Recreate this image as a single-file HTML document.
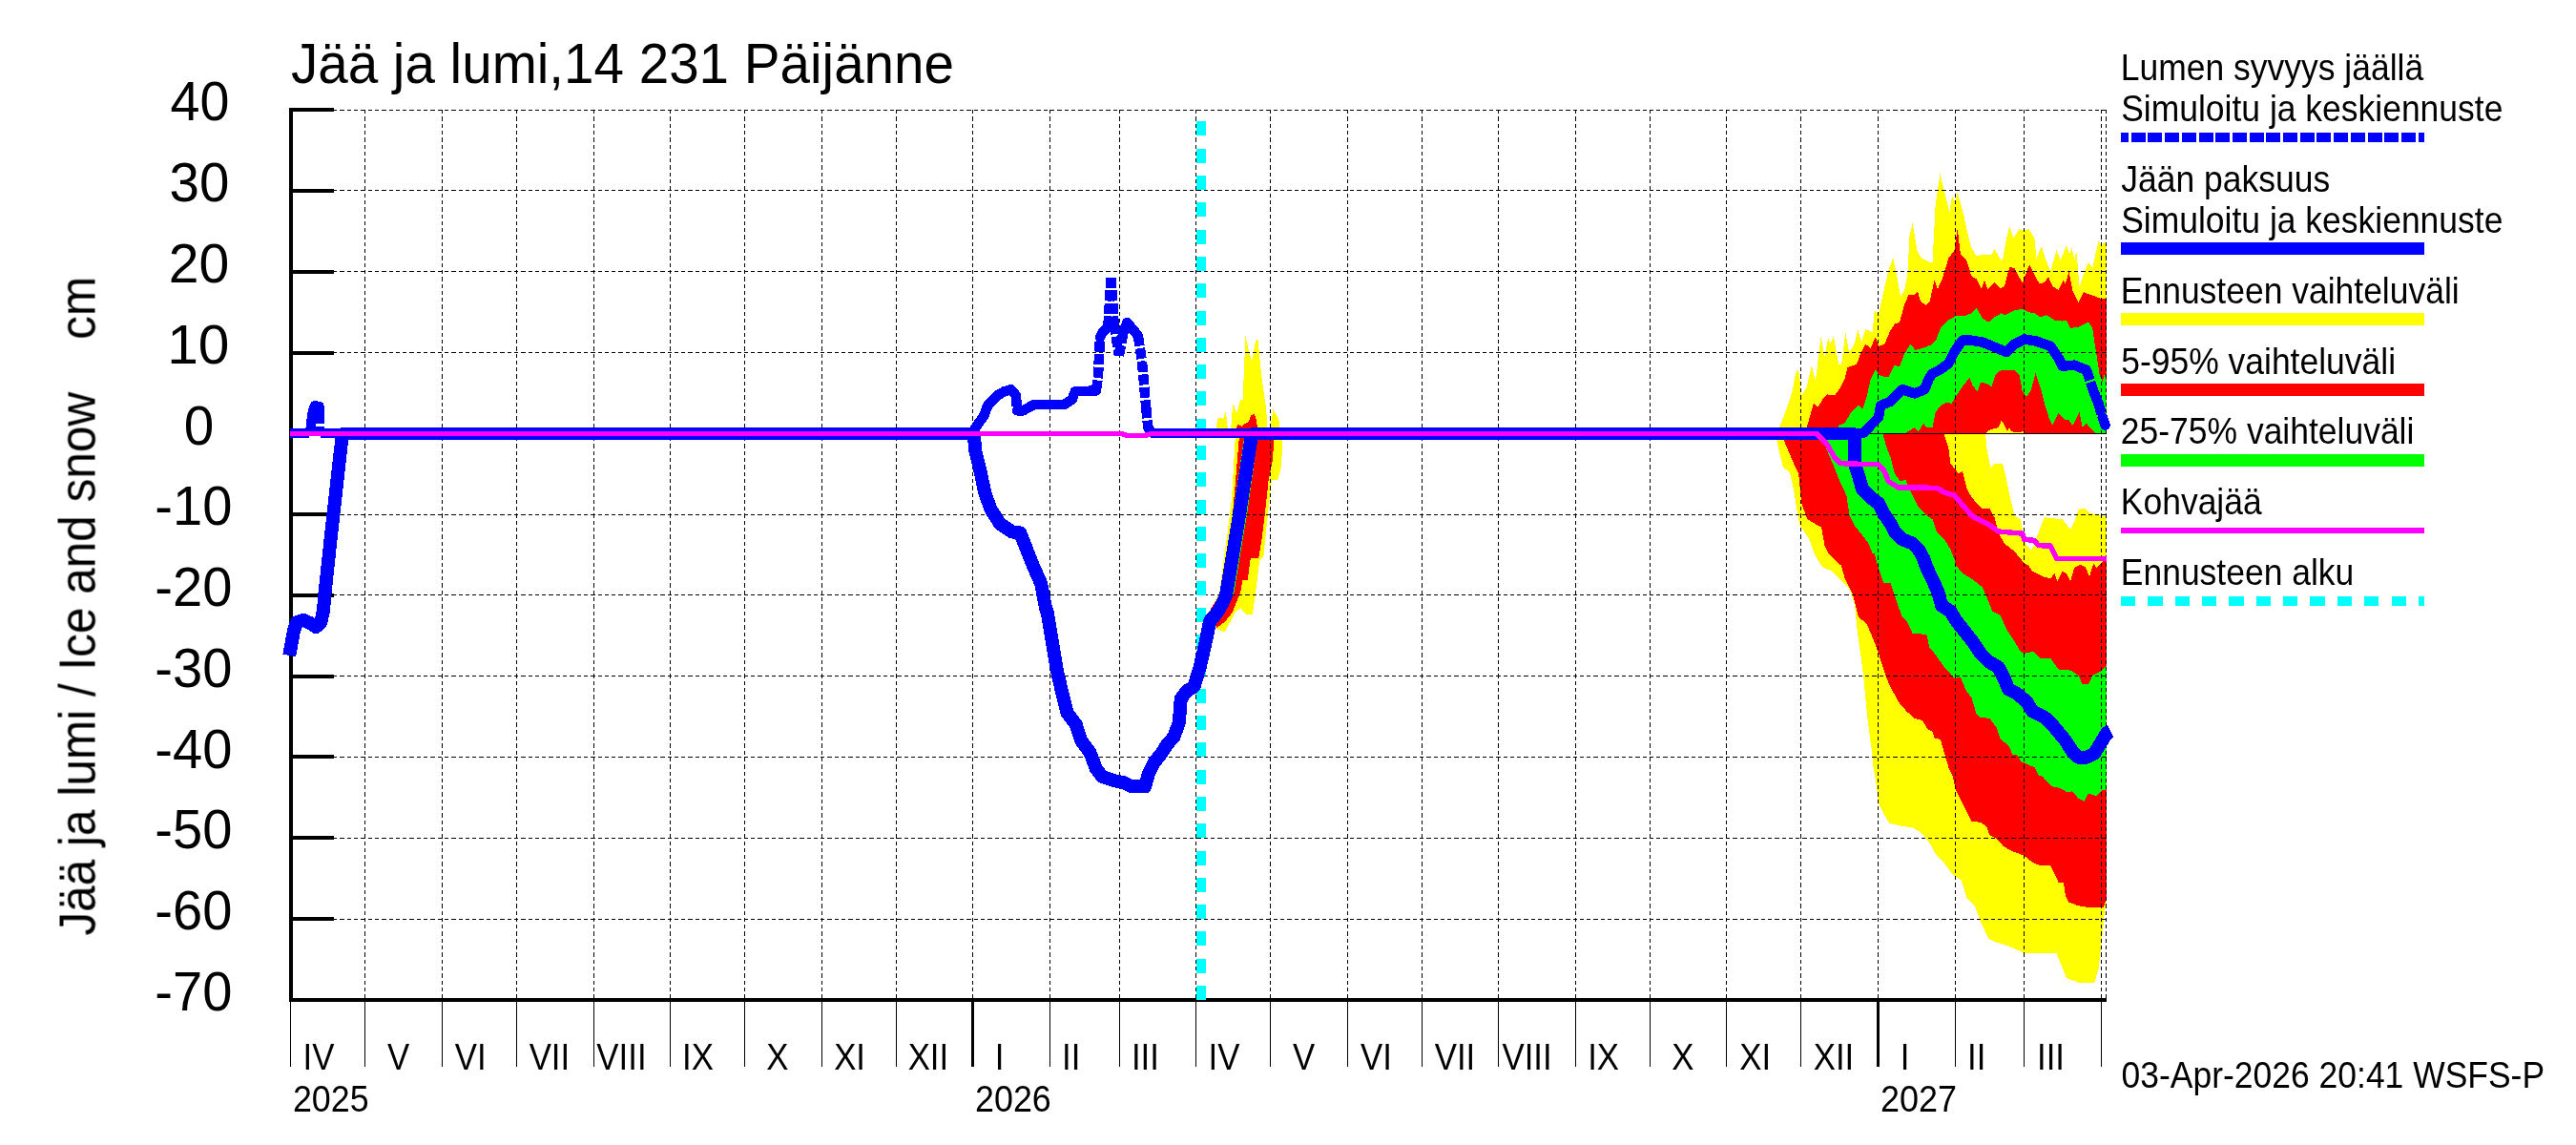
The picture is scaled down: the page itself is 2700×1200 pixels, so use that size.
<!DOCTYPE html>
<html><head><meta charset="utf-8"><title>Jää ja lumi</title>
<style>
html,body{margin:0;padding:0;background:#fff;}
body{width:2700px;height:1200px;overflow:hidden;}
svg{display:block;}
text{font-family:"Liberation Sans",sans-serif;fill:#000;}
</style></head><body>
<svg width="2700" height="1200" viewBox="0 0 2700 1200">
<rect x="0" y="0" width="2700" height="1200" fill="#fff"/>

<g shape-rendering="crispEdges">
<polygon fill="#ffff00" points="1274.4,450.1 1276.7,438.3 1279.9,437.5 1282.2,439.1 1284.9,431.2 1287.0,450.1 1290.1,450.1 1292.2,423.4 1296.4,432.8 1300.3,418.6 1302.7,418.6 1305.4,351.8 1309.0,368.3 1312.1,378.5 1316.1,357.3 1318.4,355.7 1322.3,395.0 1327.1,428.1 1328.6,450.1 1331.0,450.1 1334.6,428.9 1340.4,439.9 1341.2,450.1"/>
<polygon fill="#ff0000" points="1295.9,450.1 1297.2,444.6 1301.9,447.0 1304.3,443.8 1308.2,443.0 1311.3,435.2 1314.2,433.9 1316.1,436.7 1318.4,450.1"/>
<polygon fill="#ffff00" points="1295.1,452.6 1290.9,523.9 1286.7,557.5 1282.5,586.8 1278.3,620.4 1269.9,637.2 1266.8,641.4 1275.2,659.2 1283.6,662.4 1295.1,641.4 1300.3,637.2 1306.6,644.5 1312.9,643.5 1316.1,620.4 1320.3,586.8 1324.5,582.6 1328.7,540.7 1332.9,502.9 1339.2,502.9 1342.3,492.4 1344.4,467.3 1344.4,452.6"/>
<polygon fill="#ff0000" points="1299.3,452.6 1295.1,502.9 1292.0,538.6 1285.7,586.8 1279.4,622.5 1268.9,638.2 1275.2,658.2 1283.6,651.9 1292.0,641.4 1295.1,633.0 1300.3,620.4 1302.4,607.8 1307.7,607.8 1310.8,584.7 1319.2,584.7 1322.4,565.9 1325.5,540.7 1329.7,502.9 1333.9,482.0 1336.0,452.6"/>
<polygon fill="#00ff00" points="1305.0,452.6 1292.0,538.6 1278.3,623.6 1293.0,623.6 1307.1,538.6 1319.2,452.6"/>
<polygon fill="#ffff00" points="1862.1,454.3 1868.4,439.6 1874.7,422.9 1878.9,408.2 1882.0,391.4 1885.1,387.2 1888.3,414.5 1893.5,406.1 1898.8,383.1 1903.0,399.8 1906.1,372.6 1908.6,353.4 1912.4,373.3 1916.2,354.4 1918.7,360.7 1921.8,352.3 1927.1,381.7 1930.2,381.7 1934.4,348.1 1938.0,369.1 1942.8,362.8 1947.4,346.0 1951.2,358.6 1955.3,345.0 1962.7,348.1 1964.8,325.1 1969.0,329.3 1974.2,306.2 1979.4,283.2 1984.3,270.2 1987.8,287.4 1992.0,310.4 1996.2,304.1 1999.4,287.4 2001.5,247.5 2004.6,233.9 2009.8,264.3 2014.0,270.6 2022.4,274.8 2025.5,274.8 2028.7,214.0 2033.5,182.2 2038.1,201.4 2043.4,222.4 2046.1,205.6 2049.6,211.9 2051.7,201.4 2057.0,220.3 2061.2,239.2 2066.4,260.1 2071.7,268.5 2077.9,266.8 2087.4,267.4 2090.5,261.2 2094.7,268.5 2098.9,273.7 2103.1,249.6 2106.2,237.1 2110.4,249.6 2116.7,240.2 2121.9,241.2 2126.6,240.2 2132.4,249.6 2134.5,270.6 2139.8,258.0 2142.9,268.5 2149.2,284.2 2155.5,262.2 2159.7,272.7 2166.0,257.0 2169.1,266.4 2171.6,260.1 2174.3,272.7 2176.4,263.3 2179.6,301.0 2183.8,287.4 2189.0,274.8 2193.2,281.1 2199.5,252.8 2202.6,258.0 2205.8,253.8 2207.9,258.0 2207.9,454.5 1862.1,454.5"/>
<polygon fill="#ff0000" points="1891.4,454.3 1895.6,441.7 1900.9,422.9 1905.1,427.1 1910.3,418.7 1915.5,413.4 1922.9,414.5 1929.2,406.1 1933.3,397.7 1936.5,385.1 1945.9,382.0 1950.1,370.5 1955.3,360.7 1960.6,364.9 1965.8,353.4 1969.0,362.8 1975.3,360.7 1980.5,348.1 1985.7,339.7 1991.0,337.6 1996.2,318.8 2000.4,309.4 2006.7,309.4 2009.8,305.2 2013.0,315.6 2018.2,319.8 2022.4,316.7 2027.6,293.6 2030.8,303.1 2036.0,291.5 2042.3,270.6 2048.6,262.2 2051.7,239.2 2054.9,266.4 2061.2,272.7 2066.4,289.4 2071.7,292.6 2076.9,303.1 2080.0,293.6 2083.2,303.1 2090.5,295.7 2096.8,302.0 2101.0,299.9 2106.2,280.0 2111.5,281.1 2119.8,296.8 2127.2,276.9 2132.4,287.4 2137.7,297.8 2142.9,295.7 2147.1,290.5 2151.3,299.9 2157.6,304.1 2162.8,293.6 2164.9,297.8 2168.5,284.2 2172.2,304.1 2178.5,316.7 2183.8,306.2 2195.3,310.4 2203.7,313.5 2207.9,312.5 2207.9,454.5 1891.4,454.5"/>
<polygon fill="#00ff00" points="1925.0,454.3 1927.1,445.9 1933.3,443.8 1939.6,433.3 1948.0,425.0 1952.2,429.2 1956.4,416.6 1960.6,397.7 1965.8,387.2 1969.0,392.5 1974.2,394.6 1979.4,395.6 1985.7,383.1 1991.0,384.1 1996.2,370.5 2002.5,361.0 2007.7,367.0 2015.1,364.9 2023.5,361.7 2029.7,355.5 2033.9,343.9 2042.3,335.5 2049.6,331.4 2059.1,331.4 2066.4,328.2 2071.7,322.6 2077.9,333.5 2084.2,337.6 2090.5,332.4 2097.8,328.2 2101.0,330.3 2111.5,325.1 2119.8,324.0 2126.1,327.2 2132.4,328.2 2138.7,332.4 2145.0,330.3 2153.4,335.5 2161.8,336.6 2166.0,335.5 2170.1,343.9 2178.5,342.9 2189.0,337.6 2193.2,343.9 2195.3,358.6 2197.4,371.2 2200.5,392.1 2203.7,400.5 2205.8,392.1 2207.9,400.5 2207.9,454.3 2199.5,454.3 2195.3,453.3 2186.9,443.8 2182.7,448.0 2179.6,432.3 2174.3,442.8 2172.2,445.9 2168.0,439.6 2163.9,439.6 2157.6,433.3 2151.3,445.9 2148.1,439.6 2142.9,422.9 2138.7,406.1 2133.5,391.4 2128.2,410.3 2124.0,415.5 2119.8,410.3 2116.7,393.5 2111.5,388.3 2096.8,388.3 2091.6,392.5 2087.4,405.1 2082.1,401.9 2075.8,400.9 2072.7,410.3 2067.5,404.0 2064.3,395.6 2057.0,405.1 2050.7,414.5 2045.5,422.9 2040.2,421.8 2033.9,425.0 2028.7,432.3 2025.5,448.0 2019.3,448.0 2016.1,443.8 2010.9,452.2 2006.7,448.0 1996.2,454.3 1960.6,454.3"/>
<polygon fill="#ffff00" points="2082.1,454.3 2082.1,453.3 2086.3,450.1 2094.7,448.0 2097.8,440.7 2101.0,445.9 2104.1,452.2 2106.2,448.0 2108.3,452.2 2115.7,453.3 2120.9,452.2 2121.9,454.3"/>
<polygon fill="#ffff00" points="1862.1,455.0 1862.1,460.4 1864.4,471.4 1869.2,490.3 1875.4,494.2 1878.6,506.0 1881.0,518.6 1883.3,534.3 1886.4,550.0 1892.7,559.5 1896.7,565.8 1902.2,581.5 1910.0,594.1 1920.8,598.9 1929.2,607.2 1938.6,617.7 1943.8,632.4 1947.0,663.8 1950.1,684.8 1953.3,709.9 1956.4,743.5 1959.5,768.6 1962.7,793.7 1962.7,800.0 1965.8,816.8 1969.0,841.9 1974.2,852.4 1980.5,862.9 1994.1,866.0 2004.6,867.1 2013.0,872.3 2021.4,881.7 2029.7,896.4 2038.1,904.8 2046.5,916.3 2055.9,922.6 2061.2,940.4 2069.6,948.8 2075.8,965.5 2084.2,983.4 2092.6,987.6 2103.1,990.7 2117.8,997.0 2120.9,999.1 2155.5,999.1 2160.7,1011.7 2166.0,1025.3 2178.5,1029.5 2195.3,1029.5 2199.5,1015.8 2202.6,988.6 2205.8,957.2 2207.9,942.5 2207.9,542.3 2203.7,540.2 2191.1,538.1 2184.8,532.9 2178.5,533.9 2174.3,546.5 2170.1,554.9 2161.8,544.4 2153.4,543.4 2142.9,542.3 2138.7,552.8 2132.4,569.6 2129.3,576.9 2124.0,571.7 2120.9,559.1 2117.8,544.4 2111.5,540.2 2107.3,523.5 2103.1,502.5 2098.9,485.7 2090.5,485.7 2086.3,489.9 2082.1,469.0 2081.1,454.3"/>
<polygon fill="#ff0000" points="1869.4,455.3 1869.4,460.6 1874.7,473.2 1881.0,487.8 1885.1,496.2 1888.3,527.6 1894.6,544.4 1901.9,548.6 1909.2,552.8 1912.4,571.7 1916.6,580.0 1922.9,586.3 1929.2,592.6 1929.2,590.5 1933.3,605.1 1941.7,621.9 1948.0,647.1 1956.4,653.3 1962.7,668.0 1969.0,684.8 1976.3,707.8 1981.5,720.4 1991.0,737.2 1998.3,745.5 2006.7,752.9 2015.1,755.0 2020.3,764.4 2025.5,766.5 2027.6,773.8 2033.9,774.9 2038.1,789.6 2042.3,804.2 2046.5,812.6 2049.6,827.2 2055.9,839.8 2061.2,850.3 2066.4,860.8 2075.8,861.8 2082.1,866.0 2085.3,875.4 2092.6,878.6 2099.9,887.0 2109.4,892.2 2120.9,896.4 2130.3,903.7 2136.6,906.5 2149.2,906.9 2153.4,915.3 2157.6,924.7 2162.8,924.7 2164.9,938.3 2168.0,945.6 2178.5,949.2 2190.1,951.3 2204.7,951.3 2207.9,942.5 2207.9,586.3 2203.7,588.4 2197.4,594.7 2194.2,590.5 2190.1,604.1 2185.9,594.7 2180.6,591.5 2174.3,594.7 2170.1,609.3 2166.0,601.0 2161.8,598.9 2156.5,609.3 2153.4,601.0 2149.2,606.2 2140.8,604.1 2130.3,598.9 2126.1,592.6 2121.9,590.5 2111.5,577.9 2101.0,569.6 2094.7,559.1 2090.5,542.3 2085.3,532.9 2077.9,532.9 2071.7,527.6 2065.4,519.3 2061.2,510.9 2057.0,494.1 2052.8,496.2 2044.4,485.7 2042.3,469.0 2037.1,454.3"/>
<polygon fill="#00ff00" points="1910.3,455.3 1910.3,460.6 1915.5,473.2 1920.8,485.7 1929.2,506.7 1935.4,519.3 1938.6,540.2 1943.8,550.7 1952.2,561.2 1958.5,569.6 1962.7,580.0 1964.8,580.0 1967.9,592.6 1974.2,611.4 1981.5,611.4 1987.8,630.3 1994.1,647.1 1998.3,650.2 2004.6,663.8 2019.3,664.9 2022.4,678.5 2027.6,684.8 2038.1,699.4 2048.6,711.0 2054.9,709.9 2061.2,724.6 2066.4,730.9 2071.7,748.7 2075.8,751.8 2085.3,752.9 2092.6,762.3 2096.8,774.9 2105.2,781.2 2109.4,790.6 2114.6,791.7 2117.8,797.9 2132.4,804.2 2136.6,812.6 2140.8,813.6 2150.2,824.1 2159.7,826.2 2167.0,830.4 2172.2,829.3 2178.5,836.7 2184.8,839.8 2189.0,831.4 2197.4,834.6 2203.7,828.3 2207.9,827.2 2207.9,697.4 2201.6,703.6 2193.2,707.8 2189.0,717.3 2182.7,717.3 2178.5,707.8 2170.1,702.6 2157.6,701.5 2149.2,690.0 2138.7,690.0 2131.4,682.7 2121.9,684.8 2117.8,682.7 2111.5,672.2 2103.1,659.6 2096.8,645.0 2088.4,640.8 2084.2,630.3 2077.9,615.6 2067.5,607.2 2057.0,601.0 2048.6,590.5 2048.6,586.3 2044.4,575.8 2038.1,565.4 2029.7,557.0 2025.5,544.4 2019.3,540.2 2010.9,531.8 2005.6,521.4 2000.4,510.9 1997.3,502.5 1992.0,504.6 1985.7,496.2 1981.5,479.4 1977.4,469.0 1973.2,454.3"/>
</g>
<g stroke="#000" stroke-width="1" stroke-dasharray="4.3 3" fill="none" shape-rendering="crispEdges">
<line x1="305.3" y1="115.5" x2="2207.9" y2="115.5"/>
<line x1="305.3" y1="199.5" x2="2207.9" y2="199.5"/>
<line x1="305.3" y1="284.5" x2="2207.9" y2="284.5"/>
<line x1="305.3" y1="369.5" x2="2207.9" y2="369.5"/>
<line x1="305.3" y1="454.5" x2="2207.9" y2="454.5"/>
<line x1="305.3" y1="539.5" x2="2207.9" y2="539.5"/>
<line x1="305.3" y1="623.5" x2="2207.9" y2="623.5"/>
<line x1="305.3" y1="708.5" x2="2207.9" y2="708.5"/>
<line x1="305.3" y1="793.5" x2="2207.9" y2="793.5"/>
<line x1="305.3" y1="878.5" x2="2207.9" y2="878.5"/>
<line x1="305.3" y1="963.5" x2="2207.9" y2="963.5"/>
<line x1="382.5" y1="115.0" x2="382.5" y2="1048.0"/>
<line x1="463.5" y1="115.0" x2="463.5" y2="1048.0"/>
<line x1="541.5" y1="115.0" x2="541.5" y2="1048.0"/>
<line x1="622.5" y1="115.0" x2="622.5" y2="1048.0"/>
<line x1="702.5" y1="115.0" x2="702.5" y2="1048.0"/>
<line x1="780.5" y1="115.0" x2="780.5" y2="1048.0"/>
<line x1="861.5" y1="115.0" x2="861.5" y2="1048.0"/>
<line x1="939.5" y1="115.0" x2="939.5" y2="1048.0"/>
<line x1="1019.5" y1="115.0" x2="1019.5" y2="1048.0"/>
<line x1="1100.5" y1="115.0" x2="1100.5" y2="1048.0"/>
<line x1="1173.5" y1="115.0" x2="1173.5" y2="1048.0"/>
<line x1="1253.5" y1="115.0" x2="1253.5" y2="1048.0"/>
<line x1="1331.5" y1="115.0" x2="1331.5" y2="1048.0"/>
<line x1="1412.5" y1="115.0" x2="1412.5" y2="1048.0"/>
<line x1="1490.5" y1="115.0" x2="1490.5" y2="1048.0"/>
<line x1="1570.5" y1="115.0" x2="1570.5" y2="1048.0"/>
<line x1="1651.5" y1="115.0" x2="1651.5" y2="1048.0"/>
<line x1="1729.5" y1="115.0" x2="1729.5" y2="1048.0"/>
<line x1="1809.5" y1="115.0" x2="1809.5" y2="1048.0"/>
<line x1="1887.5" y1="115.0" x2="1887.5" y2="1048.0"/>
<line x1="1968.5" y1="115.0" x2="1968.5" y2="1048.0"/>
<line x1="2049.5" y1="115.0" x2="2049.5" y2="1048.0"/>
<line x1="2121.5" y1="115.0" x2="2121.5" y2="1048.0"/>
<line x1="2202.5" y1="115.0" x2="2202.5" y2="1048.0"/>
<line x1="2207.5" y1="115.0" x2="2207.5" y2="1048.0"/>
</g>
<g stroke="#000" fill="none" shape-rendering="crispEdges">
<line x1="305.2" y1="113.1" x2="305.2" y2="1050.0" stroke-width="4"/>
<line x1="303.3" y1="1048.0" x2="2208.4" y2="1048.0" stroke-width="4"/>
<line x1="305.0" y1="115.1" x2="350.0" y2="115.1" stroke-width="4"/>
<line x1="305.0" y1="199.9" x2="350.0" y2="199.9" stroke-width="4"/>
<line x1="305.0" y1="284.7" x2="350.0" y2="284.7" stroke-width="4"/>
<line x1="305.0" y1="369.5" x2="350.0" y2="369.5" stroke-width="4"/>
<line x1="305.0" y1="454.2" x2="350.0" y2="454.2" stroke-width="4"/>
<line x1="305.0" y1="539.0" x2="350.0" y2="539.0" stroke-width="4"/>
<line x1="305.0" y1="623.8" x2="350.0" y2="623.8" stroke-width="4"/>
<line x1="305.0" y1="708.6" x2="350.0" y2="708.6" stroke-width="4"/>
<line x1="305.0" y1="793.4" x2="350.0" y2="793.4" stroke-width="4"/>
<line x1="305.0" y1="878.1" x2="350.0" y2="878.1" stroke-width="4"/>
<line x1="305.0" y1="962.9" x2="350.0" y2="962.9" stroke-width="4"/>
<line x1="304.5" y1="1048" x2="304.5" y2="1117.6" stroke-width="1"/>
<line x1="382.5" y1="1048" x2="382.5" y2="1117.6" stroke-width="1"/>
<line x1="463.5" y1="1048" x2="463.5" y2="1117.6" stroke-width="1"/>
<line x1="541.5" y1="1048" x2="541.5" y2="1117.6" stroke-width="1"/>
<line x1="622.5" y1="1048" x2="622.5" y2="1117.6" stroke-width="1"/>
<line x1="702.5" y1="1048" x2="702.5" y2="1117.6" stroke-width="1"/>
<line x1="780.5" y1="1048" x2="780.5" y2="1117.6" stroke-width="1"/>
<line x1="861.5" y1="1048" x2="861.5" y2="1117.6" stroke-width="1"/>
<line x1="939.5" y1="1048" x2="939.5" y2="1117.6" stroke-width="1"/>
<line x1="1019.5" y1="1048" x2="1019.5" y2="1117.6" stroke-width="3"/>
<line x1="1100.5" y1="1048" x2="1100.5" y2="1117.6" stroke-width="1"/>
<line x1="1173.5" y1="1048" x2="1173.5" y2="1117.6" stroke-width="1"/>
<line x1="1253.5" y1="1048" x2="1253.5" y2="1117.6" stroke-width="1"/>
<line x1="1331.5" y1="1048" x2="1331.5" y2="1117.6" stroke-width="1"/>
<line x1="1412.5" y1="1048" x2="1412.5" y2="1117.6" stroke-width="1"/>
<line x1="1490.5" y1="1048" x2="1490.5" y2="1117.6" stroke-width="1"/>
<line x1="1570.5" y1="1048" x2="1570.5" y2="1117.6" stroke-width="1"/>
<line x1="1651.5" y1="1048" x2="1651.5" y2="1117.6" stroke-width="1"/>
<line x1="1729.5" y1="1048" x2="1729.5" y2="1117.6" stroke-width="1"/>
<line x1="1809.5" y1="1048" x2="1809.5" y2="1117.6" stroke-width="1"/>
<line x1="1887.5" y1="1048" x2="1887.5" y2="1117.6" stroke-width="1"/>
<line x1="1968.5" y1="1048" x2="1968.5" y2="1117.6" stroke-width="3"/>
<line x1="2049.5" y1="1048" x2="2049.5" y2="1117.6" stroke-width="1"/>
<line x1="2121.5" y1="1048" x2="2121.5" y2="1117.6" stroke-width="1"/>
<line x1="2202.5" y1="1048" x2="2202.5" y2="1117.6" stroke-width="1"/>
</g>
<g shape-rendering="crispEdges">
<line x1="1958.0" y1="454.5" x2="2207.9" y2="454.5" stroke="#000" stroke-width="1.6" shape-rendering="crispEdges"/>
<line x1="1259" y1="1048" x2="1259" y2="114" stroke="#00ffff" stroke-width="10" stroke-dasharray="15 13.3" shape-rendering="crispEdges"/>
<line x1="303.8" y1="454.0" x2="324.3" y2="454.0" stroke="#0000ff" stroke-width="10.2"/>
<line x1="336.0" y1="454.0" x2="1021.5" y2="454.0" stroke="#0000ff" stroke-width="10.2"/>
<line x1="1205.5" y1="454.0" x2="1955.0" y2="454.0" stroke="#0000ff" stroke-width="10.2"/>
<polyline fill="none" stroke="#0000ff" stroke-width="10.5" stroke-linejoin="round" stroke-linecap="round" points="325.5,451.5 326.5,441.0 328.0,431.0 330.0,425.5 334.5,426.0 335.0,433.0"/>
<path d="M335.0,433.0 L335.0,451.5" fill="none" stroke="#0000ff" stroke-width="10.5" stroke-dasharray="11 2.5"/>
<polyline fill="none" stroke="#0000ff" stroke-width="10.5" stroke-linejoin="round" stroke-linecap="round" points="1021.0,452.3 1021.0,450.2 1031.4,435.5 1035.6,424.0 1045.1,414.6 1052.4,410.4 1059.7,408.3 1065.0,414.6"/>
<path d="M1065.0,414.6 L1066.0,430.3" fill="none" stroke="#0000ff" stroke-width="10.5" stroke-dasharray="11 2.5"/>
<polyline fill="none" stroke="#0000ff" stroke-width="10.5" stroke-linejoin="round" stroke-linecap="round" points="1066.0,430.3 1072.3,430.3 1083.8,424.0 1115.3,424.0 1123.6,418.8 1126.8,410.4 1148.8,409.4"/>
<path d="M1148.8,409.4 L1150.9,395.7 M1150.9,395.7 L1153.0,353.8" fill="none" stroke="#0000ff" stroke-width="10.5" stroke-dasharray="11 2.5"/>
<polyline fill="none" stroke="#0000ff" stroke-width="10.5" stroke-linejoin="round" stroke-linecap="round" points="1153.0,353.8 1156.1,347.5 1161.4,342.3"/>
<path d="M1161.4,342.3 L1164.5,291.0 M1164.5,291.0 L1167.6,339.2 M1167.6,339.2 L1172.9,372.7 M1172.9,372.7 L1177.1,349.6" fill="none" stroke="#0000ff" stroke-width="10.5" stroke-dasharray="11 2.5"/>
<polyline fill="none" stroke="#0000ff" stroke-width="10.5" stroke-linejoin="round" stroke-linecap="round" points="1177.1,349.6 1181.3,338.1 1192.8,351.7"/>
<path d="M1192.8,351.7 L1197.0,379.0 M1197.0,379.0 L1201.2,427.2 M1201.2,427.2 L1203.3,448.1" fill="none" stroke="#0000ff" stroke-width="10.5" stroke-dasharray="11 2.5"/>
<polyline fill="none" stroke="#0000ff" stroke-width="10.5" stroke-linejoin="round" stroke-linecap="round" points="1203.3,448.1 1206.4,452.3"/>
<polyline fill="none" stroke="#0000ff" stroke-width="10.5" stroke-linejoin="round" stroke-linecap="round" points="1950.1,454.3 1954.3,453.3 1960.6,445.9 1969.0,437.5"/>
<path d="M1969.0,437.5 L1971.1,425.0" fill="none" stroke="#0000ff" stroke-width="10.5" stroke-dasharray="11 2.5"/>
<polyline fill="none" stroke="#0000ff" stroke-width="10.5" stroke-linejoin="round" stroke-linecap="round" points="1971.1,425.0 1981.5,420.8 1994.1,408.2 2006.7,412.4 2017.2,408.2 2021.4,397.7 2025.5,391.4 2033.9,387.2 2042.3,381.0 2048.6,368.4 2057.0,356.5 2065.4,356.5 2077.9,358.6 2090.5,363.8 2103.1,369.1 2111.5,360.7 2121.9,355.5 2134.5,357.6 2149.2,362.8 2157.6,375.4 2161.8,383.7 2174.3,382.7 2186.9,387.9"/>
<path d="M2186.9,387.9 L2191.1,400.5 M2191.1,400.5 L2195.3,412.4" fill="none" stroke="#0000ff" stroke-width="10.5" stroke-dasharray="11 2.5"/>
<polyline fill="none" stroke="#0000ff" stroke-width="10.5" stroke-linejoin="round" stroke-linecap="round" points="2195.3,412.4 2199.5,422.9"/>
<path d="M2199.5,422.9 L2203.7,437.5" fill="none" stroke="#0000ff" stroke-width="10.5" stroke-dasharray="11 2.5"/>
<polyline fill="none" stroke="#0000ff" stroke-width="10.5" stroke-linejoin="round" stroke-linecap="round" points="2203.7,437.5 2206.6,445.5"/>
<line x1="357.0" y1="454.3" x2="1021.0" y2="454.3" stroke="#0000ff" stroke-width="12.4"/>
<line x1="1311.0" y1="454.3" x2="1945.0" y2="454.3" stroke="#0000ff" stroke-width="12.4"/>
<polyline fill="none" stroke="#0000ff" stroke-width="14" stroke-linejoin="round" points="303.2,687.0 304.5,680.0 308.0,661.0 311.0,652.0 318.0,650.0 325.0,653.0 331.0,657.0 336.0,653.0 339.0,640.0 340.3,623.6 349.4,539.0 358.3,460.0 358.8,454.5"/>
<polyline fill="none" stroke="#0000ff" stroke-width="14" stroke-linejoin="round" points="1019.0,454.5 1021.0,454.7 1022.0,471.4 1027.2,492.4 1032.5,517.5 1038.8,534.3 1048.2,549.0 1060.8,557.4 1069.2,558.4 1075.4,574.1 1083.8,595.1 1091.2,611.8 1096.4,639.1 1097.4,640.0 1102.7,671.4 1107.9,702.9 1114.2,730.1 1118.4,746.9 1127.8,759.4 1133.1,776.2 1142.5,788.8 1148.8,805.5 1155.1,813.9 1167.6,818.1 1178.1,820.2 1186.5,824.4 1200.1,824.4 1204.3,809.7 1209.6,799.3 1217.9,788.8 1223.2,780.4 1230.5,772.0 1235.8,757.4 1237.8,732.2 1244.1,723.8 1251.5,719.6 1257.8,698.7 1264.0,671.4 1268.2,650.5 1272.4,646.3 1277.0,640.0 1281.0,633.0 1285.0,623.6 1299.1,538.6 1311.5,459.0 1312.5,454.5"/>
<polyline fill="none" stroke="#0000ff" stroke-width="14" stroke-linejoin="round" points="1943.8,454.5 1943.8,485.7 1948.0,498.3 1952.2,513.0 1960.6,521.4 1969.0,527.6 1974.2,538.1 1981.5,548.6 1985.7,557.0 1994.1,565.4 2004.6,569.6 2010.9,575.8 2016.1,585.3 2019.3,594.7 2025.5,607.2 2031.8,621.9 2035.0,634.5 2044.4,640.8 2050.7,651.2 2059.1,661.7 2067.5,672.2 2075.8,684.8 2084.2,693.2 2094.7,699.4 2101.0,712.0 2105.2,722.5 2113.6,726.7 2124.0,735.1 2130.3,745.5 2142.9,751.8 2153.4,762.3 2163.9,774.9 2172.2,787.5 2178.5,793.7 2186.9,793.7 2195.3,789.6 2201.6,779.1 2207.9,768.6 2212.1,766.5"/>
<polyline fill="none" stroke="#ff00ff" stroke-width="5.4" stroke-linejoin="round" points="303.8,454.6 1176.0,454.6 1182.0,456.5 1200.0,456.5 1206.0,454.6 1904.0,454.5 1914.5,464.8 1922.9,479.4 1929.2,485.7 1969.0,486.8 1975.3,494.1 1979.4,504.6 1989.9,510.9 2029.7,511.3 2038.1,516.1 2048.6,519.3 2059.1,531.8 2067.5,541.3 2084.2,549.6 2094.7,557.0 2119.8,559.1 2121.9,565.4 2132.4,566.4 2136.6,571.7 2149.2,572.1 2155.5,585.3 2207.9,585.3"/>
</g>
<g opacity="0.999">
<text transform="translate(304.92,86.80) scale(0.9565,1)" font-size="59.16" xml:space="preserve">Jää ja lumi,14 231 Päijänne</text>
<text transform="translate(178.42,126.42) scale(0.9580,1)" font-size="58.14" xml:space="preserve">40</text>
<text transform="translate(177.55,211.20) scale(0.9720,1)" font-size="58.14" xml:space="preserve">30</text>
<text transform="translate(176.82,295.98) scale(0.9836,1)" font-size="58.14" xml:space="preserve">20</text>
<text transform="translate(175.23,380.76) scale(1.0091,1)" font-size="58.14" xml:space="preserve">10</text>
<text transform="translate(192.79,465.54) scale(0.9751,1)" font-size="58.14" xml:space="preserve">0</text>
<text transform="translate(162.31,550.32) scale(0.9649,1)" font-size="58.14" xml:space="preserve">-10</text>
<text transform="translate(162.31,635.10) scale(0.9649,1)" font-size="58.14" xml:space="preserve">-20</text>
<text transform="translate(162.31,719.88) scale(0.9649,1)" font-size="58.14" xml:space="preserve">-30</text>
<text transform="translate(162.31,804.66) scale(0.9649,1)" font-size="58.14" xml:space="preserve">-40</text>
<text transform="translate(162.31,889.44) scale(0.9649,1)" font-size="58.14" xml:space="preserve">-50</text>
<text transform="translate(162.31,974.22) scale(0.9649,1)" font-size="58.14" xml:space="preserve">-60</text>
<text transform="translate(162.31,1059.00) scale(0.9649,1)" font-size="58.14" xml:space="preserve">-70</text>
<text transform="translate(317.49,1121.10) scale(0.9135,1)" font-size="38.08" xml:space="preserve">IV</text>
<text transform="translate(405.95,1121.10) scale(0.9135,1)" font-size="38.08" xml:space="preserve">V</text>
<text transform="translate(476.86,1121.10) scale(0.9135,1)" font-size="38.08" xml:space="preserve">VI</text>
<text transform="translate(554.67,1121.10) scale(0.9135,1)" font-size="38.08" xml:space="preserve">VII</text>
<text transform="translate(625.37,1121.10) scale(0.9135,1)" font-size="38.08" xml:space="preserve">VIII</text>
<text transform="translate(715.12,1121.10) scale(0.9135,1)" font-size="38.08" xml:space="preserve">IX</text>
<text transform="translate(803.16,1121.10) scale(0.9135,1)" font-size="38.08" xml:space="preserve">X</text>
<text transform="translate(874.16,1121.10) scale(0.9135,1)" font-size="38.08" xml:space="preserve">XI</text>
<text transform="translate(951.67,1121.10) scale(0.9135,1)" font-size="38.08" xml:space="preserve">XII</text>
<text transform="translate(1042.74,1121.10) scale(0.9135,1)" font-size="38.08" xml:space="preserve">I</text>
<text transform="translate(1113.05,1121.10) scale(0.9135,1)" font-size="38.08" xml:space="preserve">II</text>
<text transform="translate(1185.96,1121.10) scale(0.9135,1)" font-size="38.08" xml:space="preserve">III</text>
<text transform="translate(1266.56,1121.10) scale(0.9135,1)" font-size="38.08" xml:space="preserve">IV</text>
<text transform="translate(1355.03,1121.10) scale(0.9135,1)" font-size="38.08" xml:space="preserve">V</text>
<text transform="translate(1425.93,1121.10) scale(0.9135,1)" font-size="38.08" xml:space="preserve">VI</text>
<text transform="translate(1503.74,1121.10) scale(0.9135,1)" font-size="38.08" xml:space="preserve">VII</text>
<text transform="translate(1574.44,1121.10) scale(0.9135,1)" font-size="38.08" xml:space="preserve">VIII</text>
<text transform="translate(1664.19,1121.10) scale(0.9135,1)" font-size="38.08" xml:space="preserve">IX</text>
<text transform="translate(1752.23,1121.10) scale(0.9135,1)" font-size="38.08" xml:space="preserve">X</text>
<text transform="translate(1823.23,1121.10) scale(0.9135,1)" font-size="38.08" xml:space="preserve">XI</text>
<text transform="translate(1900.74,1121.10) scale(0.9135,1)" font-size="38.08" xml:space="preserve">XII</text>
<text transform="translate(1991.82,1121.10) scale(0.9135,1)" font-size="38.08" xml:space="preserve">I</text>
<text transform="translate(2062.12,1121.10) scale(0.9135,1)" font-size="38.08" xml:space="preserve">II</text>
<text transform="translate(2135.03,1121.10) scale(0.9135,1)" font-size="38.08" xml:space="preserve">III</text>
<text transform="translate(306.90,1165.30) scale(0.9421,1)" font-size="38.08" xml:space="preserve">2025</text>
<text transform="translate(1021.95,1165.30) scale(0.9429,1)" font-size="38.08" xml:space="preserve">2026</text>
<text transform="translate(1971.02,1165.30) scale(0.9458,1)" font-size="38.08" xml:space="preserve">2027</text>
<text transform="translate(2223.61,1140.20) scale(0.9347,1)" font-size="37.94" xml:space="preserve">03-Apr-2026 20:41 WSFS-P</text>
<text transform="translate(99.5,980.57) rotate(-90) scale(0.9235,1)" font-size="53.63" xml:space="preserve">Jää ja lumi / Ice and snow    cm</text>
<text transform="translate(2222.79,84.20) scale(0.9350,1)" font-size="37.94" xml:space="preserve">Lumen syvyys jäällä</text>
<text transform="translate(2223.19,126.90) scale(0.9350,1)" font-size="37.94" xml:space="preserve">Simuloitu ja keskiennuste</text>
<g shape-rendering="crispEdges">
<line x1="2223" y1="144" x2="2541" y2="144" stroke="#0000ff" stroke-width="10" stroke-dasharray="15 2.7" stroke-dashoffset="7"/>
<text transform="translate(2223.35,201.40) scale(0.9350,1)" font-size="37.94" xml:space="preserve">Jään paksuus</text>
<text transform="translate(2223.19,244.30) scale(0.9350,1)" font-size="37.94" xml:space="preserve">Simuloitu ja keskiennuste</text>
<rect x="2223" y="254" width="318" height="13" fill="#0000ff"/>
<text transform="translate(2222.79,318.00) scale(0.9350,1)" font-size="37.94" xml:space="preserve">Ennusteen vaihteluväli</text>
<rect x="2223" y="328.2" width="318" height="12.8" fill="#ffff00"/>
<text transform="translate(2223.18,391.80) scale(0.9350,1)" font-size="37.94" xml:space="preserve">5-95% vaihteluväli</text>
<rect x="2223" y="402" width="318" height="12.8" fill="#ff0000"/>
<text transform="translate(2222.82,465.20) scale(0.9350,1)" font-size="37.94" xml:space="preserve">25-75% vaihteluväli</text>
<rect x="2223" y="475.5" width="318" height="13" fill="#00ff00"/>
<text transform="translate(2222.79,538.90) scale(0.9350,1)" font-size="37.94" xml:space="preserve">Kohvajää</text>
<rect x="2223" y="553" width="318" height="6" fill="#ff00ff"/>
<text transform="translate(2222.79,612.60) scale(0.9350,1)" font-size="37.94" xml:space="preserve">Ennusteen alku</text>
<line x1="2223" y1="630" x2="2541" y2="630" stroke="#00ffff" stroke-width="10" stroke-dasharray="15.2 13.15"/>
</g>
</g>
</svg></body></html>
